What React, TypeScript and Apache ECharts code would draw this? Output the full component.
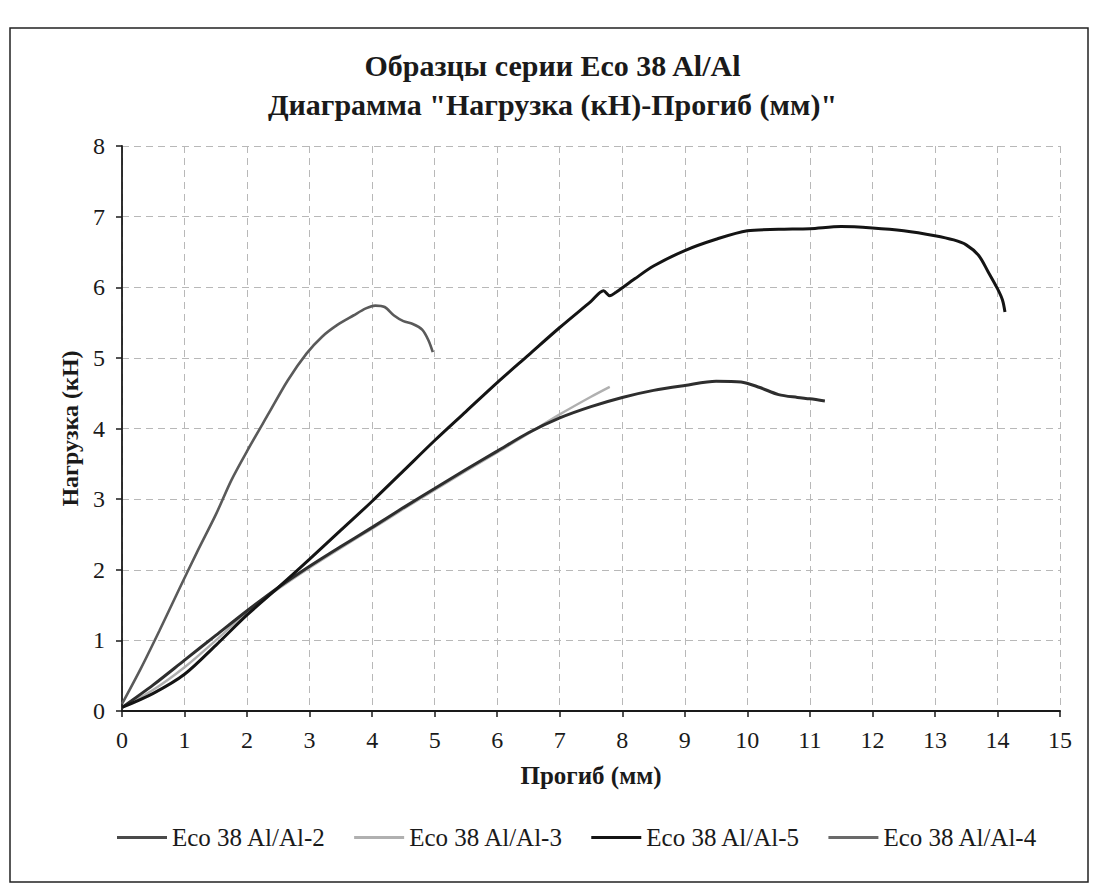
import React, { useEffect, useRef } from "react";
import * as echarts from "echarts";

const titleLine1 = "Образцы серии Eco 38 Al/Al";
const titleLine2 = "Диаграмма \"Нагрузка (кН)-Прогиб (мм)\"";
const xAxisName = "Прогиб (мм)";
const yAxisName = "Нагрузка (кН)";

const seriesNames = ["Eco 38 Al/Al-2", "Eco 38 Al/Al-3", "Eco 38 Al/Al-5", "Eco 38 Al/Al-4"];

// [deflection mm, load kN]
const eco2: [number, number][] = [
  [0, 0.1], [0.3, 0.6], [0.6, 1.14], [0.9, 1.7], [1.2, 2.25], [1.5, 2.78], [1.75, 3.27],
  [2, 3.68], [2.35, 4.22], [2.65, 4.68], [2.95, 5.06], [3.2, 5.3], [3.45, 5.47], [3.7, 5.6],
  [3.9, 5.7], [4.05, 5.74], [4.2, 5.72], [4.35, 5.6], [4.5, 5.52], [4.65, 5.48], [4.8, 5.4],
  [4.9, 5.25], [4.97, 5.08],
];
const eco3: [number, number][] = [
  [0, 0.05], [0.5, 0.3], [1, 0.62], [1.5, 1.0], [2, 1.4], [2.5, 1.73], [3, 2.03], [3.5, 2.31],
  [4, 2.58], [4.5, 2.86], [5, 3.13], [5.5, 3.4], [6, 3.66], [6.5, 3.93], [7, 4.2], [7.5, 4.45],
  [7.8, 4.59],
];
const eco5: [number, number][] = [
  [0, 0.05], [0.5, 0.25], [1, 0.52], [1.5, 0.93], [2, 1.36], [2.5, 1.75], [3, 2.15], [3.5, 2.56],
  [4, 2.97], [4.5, 3.4], [5, 3.83], [5.5, 4.24], [6, 4.65], [6.5, 5.04], [7, 5.43], [7.5, 5.8],
  [7.7, 5.95], [7.8, 5.88], [7.9, 5.93], [8.2, 6.12], [8.5, 6.3], [9, 6.52], [9.5, 6.68],
  [10, 6.8], [10.5, 6.82], [11, 6.83], [11.5, 6.86], [12, 6.84], [12.5, 6.8], [13, 6.73],
  [13.3, 6.67], [13.5, 6.6], [13.7, 6.45], [13.85, 6.22], [14.0, 5.98], [14.08, 5.82], [14.12, 5.65],
];
const eco4: [number, number][] = [
  [0, 0.05], [0.5, 0.37], [1, 0.72], [1.5, 1.07], [2, 1.42], [2.5, 1.75], [3, 2.05], [3.5, 2.33],
  [4, 2.6], [4.5, 2.88], [5, 3.15], [5.5, 3.42], [6, 3.68], [6.5, 3.94], [7, 4.15], [7.5, 4.31],
  [8, 4.44], [8.5, 4.54], [9, 4.61], [9.5, 4.67], [9.9, 4.66], [10.2, 4.58], [10.5, 4.48],
  [10.8, 4.44], [11, 4.42], [11.24, 4.39],
];

const seriesData = [eco2, eco3, eco5, eco4];
const seriesColors = ["#5a5a5a", "#b0b0b0", "#141414", "#2e2e2e"];
const legendColors = ["#4a4a4a", "#b0b0b0", "#141414", "#6a6a6a"];
const seriesWidths = [2.6, 2.4, 3, 3];

const FONT = "Liberation Serif";

export default function App() {
  const ref = useRef<HTMLDivElement>(null);
  useEffect(() => {
    document.body.style.margin = "0";
    if (!ref.current) return;
    const chart = echarts.init(ref.current, null, { renderer: "svg" });
    chart.setOption({
      animation: false,
      backgroundColor: "#ffffff",
      textStyle: { fontFamily: FONT },
      title: {
        text: titleLine1 + "\n" + titleLine2,
        left: "center",
        top: 41,
        textStyle: { fontFamily: FONT, fontWeight: "bold", fontSize: 30, lineHeight: 39, color: "#1a1a1a" },
      },
      graphic: [
        {
          type: "rect",
          shape: { x: 10, y: 28, width: 1078, height: 854 },
          style: { fill: "none", stroke: "#222", lineWidth: 1.5 },
          silent: true,
        },
      ],
      legend: {
        top: 820,
        left: 112,
        icon: "rect",
        itemWidth: 50,
        itemHeight: 3,
        itemGap: 28,
        textStyle: { fontFamily: FONT, fontSize: 25, color: "#1a1a1a" },
        data: seriesNames.map((name, i) => ({ name, itemStyle: { color: legendColors[i] } })),
      },
      grid: { left: 122, right: 45, top: 146, bottom: 178 },
      xAxis: {
        type: "value",
        min: 0,
        max: 15,
        interval: 1,
        name: xAxisName,
        nameLocation: "middle",
        nameGap: 52,
        nameTextStyle: { fontFamily: FONT, fontWeight: "bold", fontSize: 25, color: "#1a1a1a" },
        axisLine: { show: true, lineStyle: { color: "#1a1a1a", width: 1.8 } },
        axisTick: { show: true, length: 6, lineStyle: { color: "#1a1a1a", width: 1.5 } },
        axisLabel: { fontFamily: FONT, fontSize: 24, color: "#1a1a1a", margin: 17 },
        splitLine: { show: true, lineStyle: { color: "#b8b8b8", type: [7, 5], width: 1 } },
      },
      yAxis: {
        type: "value",
        min: 0,
        max: 8,
        interval: 1,
        name: yAxisName,
        nameLocation: "middle",
        nameGap: 40,
        nameTextStyle: { fontFamily: FONT, fontWeight: "bold", fontSize: 24, color: "#1a1a1a" },
        axisLine: { show: true, lineStyle: { color: "#1a1a1a", width: 1.8 } },
        axisTick: { show: true, length: 6, lineStyle: { color: "#1a1a1a", width: 1.5 } },
        axisLabel: { fontFamily: FONT, fontSize: 24, color: "#1a1a1a", margin: 17 },
        splitLine: { show: true, lineStyle: { color: "#b8b8b8", type: [7, 5], width: 1 } },
      },
      series: seriesNames.map((name, i) => ({
        name,
        type: "line",
        data: seriesData[i],
        showSymbol: false,
        symbol: "none",
        smooth: 0.3,
        color: seriesColors[i],
        lineStyle: { color: seriesColors[i], width: seriesWidths[i] },
        z: i === 2 ? 4 : 3,
      })),
    });
    return () => chart.dispose();
  }, []);
  return <div ref={ref} style={{ width: 1105, height: 889 }} />;
}
